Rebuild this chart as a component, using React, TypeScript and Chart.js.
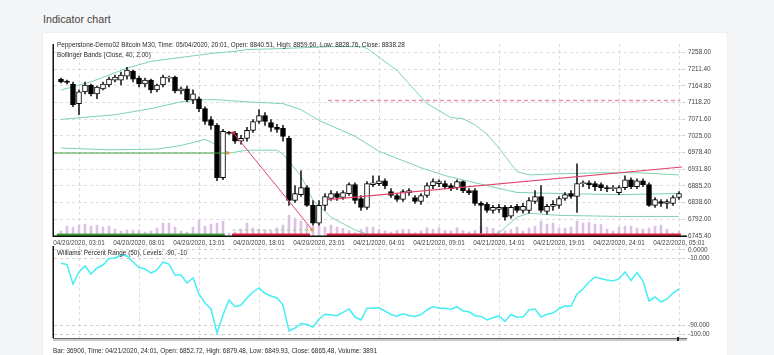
import React, { useEffect, useRef } from "react";
import { Chart, registerables } from "chart.js";

Chart.register(...registerables);

const FONT = "'Liberation Sans', Arial, Helvetica, sans-serif";
Chart.defaults.font.family = FONT;

// ---------- data ----------
const xTickIndex = [3, 13, 23, 33, 43, 53, 63, 73, 83, 93, 103];
const xTickLabels = [
  "04/20/2020, 03:01", "04/20/2020, 08:01", "04/20/2020, 13:01", "04/20/2020, 18:01",
  "04/20/2020, 23:01", "04/21/2020, 04:01", "04/21/2020, 09:01", "04/21/2020, 14:01",
  "04/21/2020, 19:01", "04/22/2020, 24:01", "04/22/2020, 05:01",
];
const priceTicks = [7258.0, 7211.4, 7164.8, 7118.2, 7071.6, 7025.0, 6978.4, 6931.8, 6885.2, 6838.6, 6792.0, 6745.4];
const wprTicks = [0, -10, -90, -100];
const wprTickLabels = ["0.0000", "-10.000", "-90.000", "-100.00"];

const opens = [
  7183.6, 7178.1, 7169.8, 7114.7, 7147.8, 7167.1, 7142.3, 7156.0, 7167.1, 7180.8,
  7180.8, 7191.9, 7205.6, 7186.3, 7169.8, 7180.8, 7153.3, 7167.1, 7186.3, 7189.1,
  7150.5, 7156.0, 7125.7, 7128.5, 7100.9, 7070.6, 7054.1, 6908.0, 7034.8, 7032.0,
  7009.9, 7018.2, 7040.3, 7065.1, 7081.6, 7062.4, 7048.5, 7045.8, 7018.2, 6844.6,
  6861.1, 6880.4, 6830.8, 6781.2, 6830.8, 6850.1, 6863.9, 6852.9, 6863.9, 6888.7,
  6850.1, 6825.3, 6888.7, 6891.5, 6899.7, 6869.4, 6858.4, 6847.4, 6866.6, 6852.9,
  6841.8, 6858.4, 6885.9, 6891.5, 6891.5, 6885.9, 6880.4, 6897.0, 6872.2, 6872.2,
  6836.3, 6833.6, 6817.0, 6819.8, 6825.3, 6800.5, 6828.1, 6817.0, 6817.0, 6841.8,
  6855.6, 6814.3, 6828.1, 6830.8, 6850.1, 6863.9, 6855.6, 6891.5, 6894.2, 6891.5,
  6888.7, 6880.4, 6877.7, 6866.6, 6880.4, 6902.5, 6883.2, 6899.7, 6888.7, 6830.8,
  6841.8, 6836.3, 6836.3, 6852.9,
];
const highs = [
  7186.3, 7180.8, 7175.3, 7153.3, 7175.3, 7169.8, 7164.3, 7175.3, 7189.1, 7194.6,
  7202.9, 7216.7, 7208.4, 7191.9, 7186.3, 7183.6, 7169.8, 7194.6, 7191.9, 7191.9,
  7161.5, 7164.3, 7153.3, 7134.0, 7106.4, 7078.9, 7059.6, 7043.0, 7037.5, 7037.5,
  7026.5, 7048.5, 7070.6, 7098.2, 7089.9, 7070.6, 7056.9, 7054.1, 7023.7, 6885.9,
  6927.3, 6885.9, 6844.6, 6844.6, 6863.9, 6872.2, 6869.4, 6872.2, 6894.2, 6894.2,
  6858.4, 6897.0, 6913.5, 6913.5, 6905.2, 6877.7, 6863.9, 6874.9, 6877.7, 6858.4,
  6863.9, 6894.2, 6905.2, 6902.5, 6899.7, 6891.5, 6902.5, 6899.7, 6877.7, 6877.7,
  6841.8, 6839.1, 6830.8, 6833.6, 6830.8, 6830.8, 6833.6, 6836.3, 6852.9, 6872.2,
  6885.9, 6833.6, 6844.6, 6855.6, 6866.6, 6872.2, 6946.6, 6899.7, 6899.7, 6897.0,
  6894.2, 6885.9, 6885.9, 6885.9, 6913.5, 6908.0, 6905.2, 6905.2, 6894.2, 6852.9,
  6847.4, 6847.4, 6858.4, 6869.4,
];
const lows = [
  7172.6, 7169.8, 7106.4, 7084.4, 7142.3, 7136.7, 7128.5, 7153.3, 7161.5, 7175.3,
  7167.1, 7183.6, 7175.3, 7161.5, 7161.5, 7145.0, 7147.8, 7161.5, 7175.3, 7145.0,
  7142.3, 7120.2, 7114.7, 7092.7, 7056.9, 7043.0, 6899.7, 6902.5, 7029.3, 7004.2,
  7001.7, 7009.9, 7034.8, 7059.6, 7054.1, 7037.5, 7034.8, 7009.9, 6830.8, 6839.1,
  6855.6, 6828.1, 6775.7, 6775.7, 6817.0, 6844.6, 6844.6, 6847.4, 6858.4, 6836.3,
  6817.0, 6819.8, 6883.2, 6885.9, 6877.7, 6852.9, 6841.8, 6841.8, 6858.4, 6836.3,
  6833.6, 6852.9, 6877.7, 6883.2, 6877.7, 6872.2, 6874.9, 6866.6, 6861.1, 6830.8,
  6753.6, 6811.5, 6808.8, 6811.5, 6789.5, 6795.0, 6811.5, 6808.8, 6808.8, 6836.3,
  6811.5, 6806.0, 6817.0, 6822.6, 6844.6, 6850.1, 6811.5, 6883.2, 6877.7, 6872.2,
  6872.2, 6869.4, 6872.2, 6861.1, 6874.9, 6877.7, 6877.7, 6883.2, 6828.1, 6825.3,
  6828.1, 6822.6, 6830.8, 6847.4,
];
const closes = [
  7175.3, 7174.0, 7111.9, 7147.8, 7167.1, 7142.3, 7161.5, 7169.8, 7183.6, 7189.1,
  7194.6, 7208.4, 7183.6, 7169.8, 7180.8, 7153.3, 7167.1, 7189.1, 7189.1, 7150.5,
  7156.0, 7125.7, 7142.3, 7100.9, 7065.1, 7054.1, 6908.0, 7037.5, 7032.0, 7009.9,
  7018.2, 7040.3, 7065.1, 7081.6, 7065.1, 7048.5, 7043.0, 7023.7, 6844.6, 6863.9,
  6880.4, 6830.8, 6781.2, 6830.8, 6855.6, 6863.9, 6852.9, 6866.6, 6888.7, 6844.6,
  6825.3, 6891.5, 6894.2, 6899.7, 6885.9, 6858.4, 6847.4, 6869.4, 6872.2, 6841.8,
  6858.4, 6885.9, 6897.0, 6897.0, 6883.2, 6877.7, 6897.0, 6872.2, 6866.6, 6836.3,
  6830.8, 6817.0, 6825.3, 6825.3, 6797.7, 6825.3, 6817.0, 6828.1, 6844.6, 6855.6,
  6817.0, 6828.1, 6833.6, 6850.1, 6861.1, 6855.6, 6891.5, 6894.2, 6888.7, 6883.2,
  6880.4, 6877.7, 6880.4, 6880.4, 6902.5, 6883.2, 6899.7, 6888.7, 6830.8, 6847.4,
  6836.3, 6841.8, 6852.9, 6863.9,
];
const volumes = [
  1200, 2200, 2000, 2400, 2600, 2200, 2400, 2000, 2200, 1600,
  1200, 1400, 1400, 1400, 1000, 1200, 1800, 2800, 2800, 2000,
  1200, 1000, 2000, 3400, 2200, 2600, 2800, 3200, 800, 1000,
  1600, 2800, 1800, 1600, 1400, 1200, 1800, 2400, 4400, 3800,
  3200, 2540, 2200, 2400, 2000, 2400, 2000, 1740, 1340, 860,
  1540, 2000, 2000, 1540, 1260, 1000, 1340, 1540, 1540, 860,
  1260, 1860, 1540, 1860, 1340, 1260, 1860, 1340, 1060, 1340,
  2200, 2000, 1740, 1340, 1260, 1540, 2000, 1200, 1800, 2200,
  3200, 2600, 2800, 1800, 1800, 2000, 3200, 2800, 3000, 2600,
  2540, 1600, 1200, 2000, 2200, 2200, 1800, 1600, 1800, 2200,
  2400, 1600, 800, 1200,
];
const wpr = [
  -15.8, -17.3, -40.5, -26.2, -19.0, -28.6, -21.4, -17.9, -10.1, -9.5,
  -6.0, -7.1, -14.3, -20.8, -22.6, -27.4, -23.8, -14.3, -16.7, -29.8,
  -29.8, -39.3, -33.3, -52.4, -63.1, -70.2, -98.8, -77.4, -59.5, -67.5,
  -65.5, -57.1, -50.0, -45.2, -51.8, -54.8, -57.1, -65.5, -96.4, -92.9,
  -87.5, -88.7, -91.7, -82.1, -76.5, -77.4, -78.2, -74.2, -70.2, -79.8,
  -83.3, -69.4, -69.3, -68.8, -72.6, -76.8, -78.9, -76.0, -78.0, -79.2,
  -76.8, -71.4, -67.3, -69.4, -69.4, -70.6, -67.5, -72.6, -73.6, -78.2,
  -79.0, -83.3, -80.6, -78.5, -85.1, -76.8, -80.1, -79.8, -71.4, -70.2,
  -79.8, -76.5, -75.0, -69.9, -66.7, -67.0, -52.4, -46.4, -38.1, -32.1,
  -33.9, -35.7, -36.9, -34.5, -26.2, -36.3, -26.8, -36.9, -60.7, -56.0,
  -61.9, -58.3, -51.2, -46.4,
];

// Bollinger bands [bar index, value]
const bbUpper = [
  [0, 7153], [5, 7176], [11, 7214], [15, 7233], [20, 7244], [25, 7255], [29, 7261], [31, 7266],
  [37, 7269], [45, 7274], [50, 7274], [51, 7269], [56, 7208], [61, 7115], [65, 7076], [67, 7073],
  [69, 7056], [71, 7030], [73, 6991], [75, 6947], [76, 6925], [78, 6916], [83, 6919], [90, 6922],
  [96, 6922], [103, 6916],
];
const bbMiddle = [
  [0, 7071], [9, 7084], [15, 7101], [20, 7120], [24, 7126], [26, 7126], [31, 7120], [37, 7115],
  [40, 7098], [43, 7068], [49, 7024], [53, 6982], [60, 6936], [64, 6914], [71, 6886], [76, 6867],
  [83, 6864], [93, 6861], [103, 6864],
];
const bbLower = [
  [0, 6991], [8, 6986], [16, 6988], [20, 6998], [24, 7015], [25, 7008], [28, 6977], [31, 6985],
  [36, 6985], [37, 6974], [40, 6913], [42, 6845], [45, 6798], [49, 6762], [55, 6729], [63, 6718],
  [73, 6754], [76, 6798], [78, 6809], [83, 6803], [93, 6800], [103, 6800],
];

// drawn objects (bar index, price)
const zigzagLine = [[28.6, 7036], [41.8, 6764]];
const trendLine = [[44.5, 6847], [103.5, 6938]];
const resistanceLine = [[44.5, 7124], [103.2, 7124]];
const supportLine = [[-1.2, 6977], [27.8, 6977]];
const targetLine = [[28.6, 6762], [41.8, 6762]];
const greenStrip = [[-0.7, 6748.6], [27.3, 6748.6]];
const redStrip1 = [[28.5, 6748.6], [41.5, 6748.6]];
const redStrip2 = [[44.3, 6748.6], [103.3, 6748.6]];
const redMarkers = [[28.7, 7033]];
const orangeMarkers = [[27.8, 6977], [41.8, 6763]];

const X_MIN = -1.1667;
const X_MAX = 103.5;

const toPts = (arr: number[][]) => arr.map(([x, y]) => ({ x, y }));

function framePlugin(id: string, bottomLine: boolean) {
  return {
    id,
    afterDraw(chart: any) {
      const { ctx, chartArea: a } = chart;
      ctx.save();
      ctx.strokeStyle = "#111";
      ctx.lineWidth = 1.5;
      ctx.beginPath();
      ctx.moveTo(a.left - 0.75, a.top);
      ctx.lineTo(a.left - 0.75, a.bottom);
      if (bottomLine) {
        ctx.moveTo(a.left - 1.5, a.bottom - 0.75);
        ctx.lineTo(a.right + 5, a.bottom - 0.75);
      }
      ctx.stroke();
      ctx.restore();
    },
  };
}

const GRID = "#dcdcdc";
const TICK_FONT = { size: 6.4, family: FONT };

function lineDs(arr: number[][], color: string, width: number, order: number, dash?: number[]) {
  return {
    type: "line",
    data: toPts(arr),
    borderColor: color,
    borderWidth: width,
    borderDash: dash || [],
    pointRadius: 0,
    tension: 0,
    order,
    yAxisID: "y",
  };
}

function markerDs(arr: number[][], color: string) {
  return {
    type: "line",
    data: toPts(arr),
    showLine: false,
    pointStyle: "rect",
    pointRadius: 2,
    pointBackgroundColor: color,
    pointBorderWidth: 0,
    order: 0,
    yAxisID: "y",
  };
}

function mainConfig(): any {
  return {
    type: "line",
    data: {
      datasets: [
        {
          type: "bar",
          data: volumes.map((v, i) => ({ x: i, y: v })),
          yAxisID: "yVol",
          backgroundColor: "#dcc1e5",
          barThickness: 2,
          grouped: false,
          order: 9,
        },
        {
          type: "bar",
          data: lows.map((l, i) => ({ x: i, y: [l, highs[i]] })),
          yAxisID: "y",
          backgroundColor: "#222",
          borderWidth: 0,
          barThickness: 1,
          grouped: false,
          order: 6,
        },
        {
          type: "bar",
          data: opens.map((o, i) => ({ x: i, y: [o, closes[i]] })),
          yAxisID: "y",
          backgroundColor: opens.map((o, i) => (closes[i] >= o ? "#ffffff" : "#000000")),
          borderColor: "#000",
          borderWidth: 1,
          borderSkipped: false,
          barThickness: 5,
          minBarLength: 1,
          grouped: false,
          order: 5,
        },
        lineDs(bbUpper, "#7fd2b1", 1, 7),
        lineDs(bbMiddle, "#7fd2b1", 1, 7),
        lineDs(bbLower, "#7fd2b1", 1, 7),
        lineDs(supportLine, "#3c9f3c", 1, 2),
        lineDs(targetLine, "#8fd38f", 1, 2, [3, 3]),
        lineDs(zigzagLine, "#e0436b", 1, 2),
        lineDs(trendLine, "#e0436b", 1.2, 2),
        lineDs(resistanceLine, "#ec8fb3", 1.5, 2, [4, 3]),
        lineDs(greenStrip, "#3c9f3c", 2.5, 1),
        lineDs(redStrip1, "#e0203c", 2.5, 1),
        lineDs(redStrip2, "#e0203c", 2.5, 1),
        markerDs(redMarkers, "#e0203c"),
        markerDs(orangeMarkers, "#f0902a"),
      ],
    },
    options: {
      responsive: false,
      animation: false,
      events: [],
      layout: { padding: { left: 4, top: 2, right: 0, bottom: 0 } },
      plugins: { legend: { display: false }, tooltip: { enabled: false }, title: { display: false } },
      scales: {
        x: {
          type: "linear",
          min: X_MIN,
          max: X_MAX,
          offset: false,
          afterBuildTicks: (s: any) => {
            s.ticks = xTickIndex.map((v) => ({ value: v }));
          },
          afterFit: (s: any) => {
            s.height = 13;
            s.paddingLeft = 0;
            s.paddingRight = 0;
          },
          ticks: {
            autoSkip: false,
            maxRotation: 0,
            minRotation: 0,
            padding: 2,
            color: "#444",
            font: TICK_FONT,
            callback: (v: any) => {
              const k = xTickIndex.indexOf(Number(v));
              return k >= 0 ? xTickLabels[k] : "";
            },
          },
          grid: { color: GRID, lineWidth: 1, drawTicks: false, offset: false },
          border: { display: false, dash: [3, 3] },
        },
        y: {
          type: "linear",
          position: "right",
          min: 6742.6,
          max: 7281.5,
          afterBuildTicks: (s: any) => {
            s.ticks = priceTicks.map((v) => ({ value: v }));
          },
          afterFit: (s: any) => {
            s.width = 48;
            s.paddingTop = 0;
            s.paddingBottom = 0;
          },
          ticks: { padding: 2, color: "#444", font: TICK_FONT, callback: (v: any) => Number(v).toFixed(2) },
          grid: { color: GRID, drawTicks: true, tickLength: 4, tickColor: "#cccccc", tickBorderDash: [3, 2] },
          border: { display: false, dash: [3, 3] },
        },
        yVol: { type: "linear", display: false, min: 0, max: 39000 },
      },
    },
    plugins: [framePlugin("frameMain", true)],
  };
}

function wprConfig(): any {
  return {
    type: "line",
    data: {
      datasets: [
        {
          data: wpr.map((v, i) => ({ x: i, y: v })),
          borderColor: "#45eef2",
          borderWidth: 1.5,
          pointRadius: 0,
          tension: 0,
        },
      ],
    },
    options: {
      responsive: false,
      animation: false,
      events: [],
      layout: { padding: { left: 4, top: 2, right: 0, bottom: 2 } },
      plugins: { legend: { display: false }, tooltip: { enabled: false } },
      scales: {
        x: {
          type: "linear",
          min: X_MIN,
          max: X_MAX,
          offset: false,
          afterBuildTicks: (s: any) => {
            s.ticks = xTickIndex.map((v) => ({ value: v }));
          },
          afterFit: (s: any) => {
            s.height = 0;
            s.paddingLeft = 0;
            s.paddingRight = 0;
          },
          ticks: { display: false },
          grid: { color: GRID, drawTicks: false },
          border: { display: false, dash: [3, 3] },
        },
        y: {
          type: "linear",
          position: "right",
          min: -104.76,
          max: 4.76,
          afterBuildTicks: (s: any) => {
            s.ticks = wprTicks.map((v) => ({ value: v }));
          },
          afterFit: (s: any) => {
            s.width = 48;
            s.paddingTop = 0;
            s.paddingBottom = 0;
          },
          ticks: {
            padding: 2,
            color: "#444",
            font: TICK_FONT,
            callback: (v: any) => {
              const k = wprTicks.indexOf(Number(v));
              return k >= 0 ? wprTickLabels[k] : "";
            },
          },
          grid: { color: "#cfcfcf", drawTicks: true, tickLength: 4, tickColor: "#cccccc", tickBorderDash: [3, 2] },
          border: { display: false, dash: [3, 3] },
        },
      },
    },
    plugins: [framePlugin("frameSub", false)],
  };
}

const smallText: React.CSSProperties = {
  position: "absolute",
  fontFamily: FONT,
  fontSize: "6.4px",
  lineHeight: "7px",
  color: "#2a2a2a",
  whiteSpace: "nowrap",
  pointerEvents: "none",
};

export default function App() {
  const mainRef = useRef<HTMLCanvasElement>(null);
  const subRef = useRef<HTMLCanvasElement>(null);

  useEffect(() => {
    const c1 = new Chart(mainRef.current as HTMLCanvasElement, mainConfig());
    const c2 = new Chart(subRef.current as HTMLCanvasElement, wprConfig());
    return () => {
      c1.destroy();
      c2.destroy();
    };
  }, []);

  return (
    <div
      style={{
        position: "absolute",
        left: 0,
        top: 0,
        width: 774,
        height: 355,
        overflow: "hidden",
        background: "#f4f5f7",
        fontFamily: FONT,
      }}
    >
      <div
        style={{
          position: "absolute",
          left: 43,
          top: 13,
          fontSize: "10.7px",
          lineHeight: "12px",
          color: "#444",
          whiteSpace: "nowrap",
        }}
      >
        Indicator chart
      </div>
      <div
        style={{
          position: "absolute",
          left: 43,
          top: 33,
          width: 684,
          height: 340,
          background: "#ffffff",
          boxShadow: "0 0 2px rgba(0,0,0,0.10)",
          borderRadius: 2,
        }}
      />
      <canvas
        ref={mainRef}
        width={680}
        height={210}
        style={{ position: "absolute", left: 50, top: 40, width: 680, height: 210 }}
      />
      <canvas
        ref={subRef}
        width={680}
        height={96}
        style={{ position: "absolute", left: 50, top: 244, width: 680, height: 96 }}
      />
      <div style={{ ...smallText, left: 57, top: 41.4 }}>
        Pepperstone-Demo02 Bitcoin M30, Time: 05/04/2020, 20:01, Open: 8840.51, High: 8859.60, Low: 8828.76, Close: 8838.28
      </div>
      <div style={{ ...smallText, left: 57, top: 51 }}>Bollinger Bands (Close, 40, 2.00)</div>
      <div style={{ ...smallText, left: 57, top: 249.4 }}>Williams' Percent Range (50), Levels: -90, -10</div>
      <div style={{ position: "absolute", left: 53, top: 338, width: 634, height: 1, background: "#666" }} />
      <div style={{ position: "absolute", left: 53, top: 339, width: 634, height: 2, background: "#c9c9c9" }} />
      <div style={{ position: "absolute", left: 677, top: 337, width: 2, height: 4, background: "#222" }} />
      <div style={{ ...smallText, left: 53, top: 346.8 }}>
        Bar: 36900, Time: 04/21/2020, 24:01, Open: 6852.72, High: 6879.48, Low: 6849.93, Close: 6865.48, Volume: 3891
      </div>
    </div>
  );
}
